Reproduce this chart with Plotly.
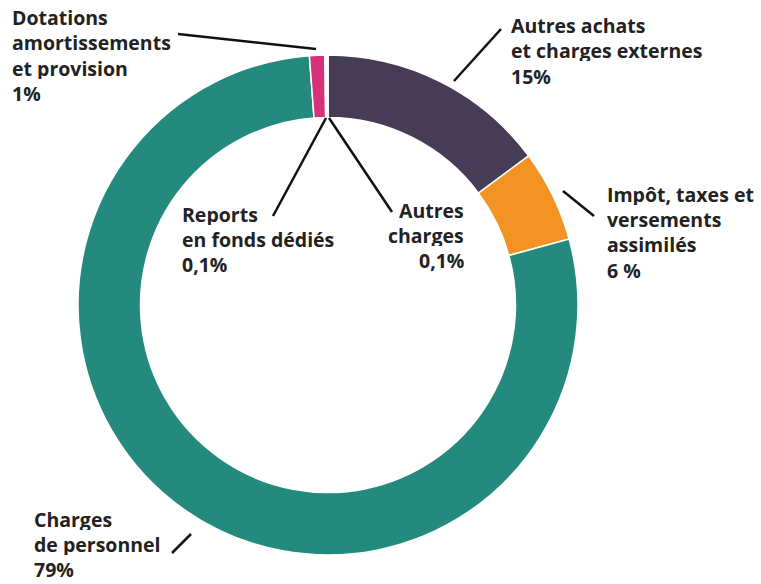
import plotly.graph_objects as go

labels = ["Autres achats et charges externes", "Impôt, taxes et versements assimilés",
          "Charges de personnel", "Dotations amortissements et provision",
          "Reports en fonds dédiés", "Autres charges"]
values = [15, 6, 79, 1, 0.1, 0.1]
colors = ["#463c55", "#f39323", "#248a7d", "#d6317a", "#eeeeee", "#eeeeee"]

label_lines = [
    ["Autres achats", "et charges externes", "15%"],
    ["Impôt, taxes et", "versements", "assimilés", "6 %"],
    ["Charges", "de personnel", "79%"],
    ["Dotations", "amortissements", "et provision", "1%"],
    ["Reports", "en fonds dédiés", "0,1%"],
    ["Autres", "charges", "0,1%"],
]

W, H = 761, 584
FONT = "Open Sans"
FS = 19.5

fig = go.Figure(go.Pie(
    labels=labels, values=values, hole=0.75, sort=False, direction="clockwise",
    rotation=0, marker=dict(colors=colors, line=dict(color="white", width=1.5)),
    textinfo="none", hoverinfo="label+percent", showlegend=False,
    domain=dict(x=[78 / W, 578 / W], y=[1 - 555 / H, 1 - 55 / H]),
))

def px(x, y):
    return x / W, 1 - y / H

# label layout (pixel): x, first baseline, line step, anchor
label_pos = [
    (509, 32, 25.5, "left"),
    (605, 201, 25.3, "left"),
    (32, 526, 25, "left"),
    (10, 24, 25.5, "left"),
    (180, 221, 25.2, "left"),
    (466, 217, 25, "right"),
]
annotations = []
for lines, (x, b0, step, anc) in zip(label_lines, label_pos):
    for i, ln in enumerate(lines):
        ax, ay = px(x, b0 + i * step - 7.3)
        annotations.append(dict(
            x=ax, y=ay, xref="paper", yref="paper", xanchor=anc, yanchor="middle",
            align=anc, valign="middle", height=22, showarrow=False,
            text="<b>" + ln + "</b>",
            font=dict(family=FONT, size=FS, color="#222222"),
        ))

leaders = [
    (501, 29, 454, 81),
    (563, 191, 594, 216),
    (172, 553, 191, 534),
    (178, 34, 316, 49),
    (273, 216, 326, 118),
    (329, 118, 392, 212),
]
shapes = []
for x0, y0, x1, y1 in leaders:
    a0, b0 = px(x0, y0)
    a1, b1 = px(x1, y1)
    shapes.append(dict(type="line", xref="paper", yref="paper", x0=a0, y0=b0, x1=a1, y1=b1,
                       line=dict(color="#111111", width=2.5)))

fig.update_layout(
    width=W, height=H, margin=dict(l=0, r=0, t=0, b=0),
    paper_bgcolor="white", plot_bgcolor="white",
    annotations=annotations, shapes=shapes,
)
fig.write_html("out.html", config={"displayModeBar": False},
               post_script="document.body.style.margin='0';")
